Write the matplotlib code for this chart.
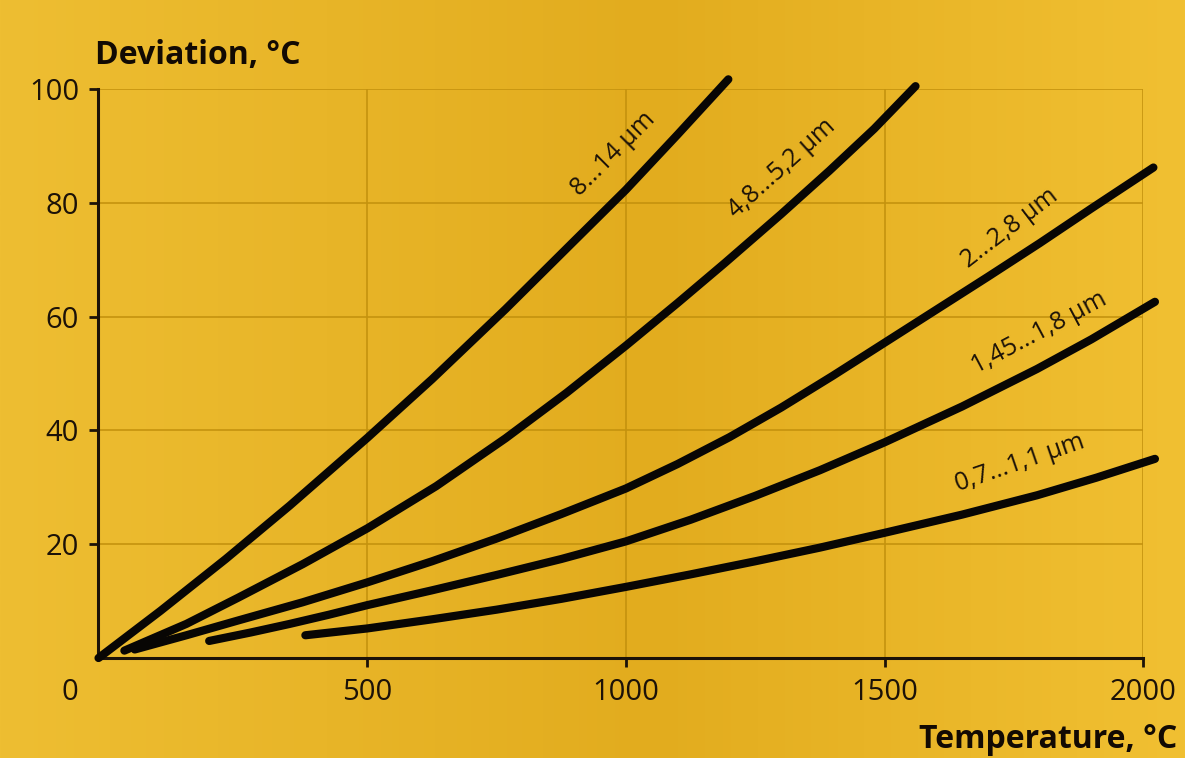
"""Deviation of measured temperature vs. object temperature for several spectral bands.

Redraws the gold "Deviation, °C over Temperature, °C" chart: five thick black curves,
one per wavelength band, each labelled along its own slope.
"""

import matplotlib

matplotlib.use("Agg")
import matplotlib.pyplot as plt  # noqa: E402
import numpy as np  # noqa: E402

# Values (temperature °C, deviation °C).
temp_8_14 = [-20, 100, 226, 350, 500, 625, 767, 900, 1000, 1100, 1198]
dev_8_14 = [0.0, 8.3, 17.4, 26.8, 38.7, 49.0, 61.3, 73.3, 82.3, 92.0, 101.7]

temp_48_52 = [30, 150, 250, 375, 500, 633, 767, 885, 1000, 1100, 1191, 1300, 1393, 1480, 1560]
dev_48_52 = [1.3, 6.0, 10.6, 16.5, 22.8, 30.2, 38.6, 46.6, 54.9, 62.4, 69.4, 78.0, 85.6, 93.0, 100.5]

temp_2_28 = [50, 150, 250, 375, 500, 625, 750, 875, 1000, 1100, 1200, 1300, 1400, 1500,
             1600, 1700, 1800, 1900, 2020]
dev_2_28 = [1.5, 4.0, 6.6, 9.8, 13.3, 17.0, 21.0, 25.3, 29.8, 34.1, 38.8, 44.0, 49.6, 55.4,
            61.2, 67.0, 72.9, 79.0, 86.2]

temp_145_18 = [194, 275, 350, 425, 500, 625, 750, 875, 1000, 1125, 1250, 1375, 1500, 1650,
               1795, 1900, 2023]
dev_145_18 = [3.0, 4.5, 6.0, 7.6, 9.3, 11.9, 14.6, 17.4, 20.5, 24.3, 28.5, 33.0, 37.9, 44.2,
              50.8, 56.0, 62.6]

temp_07_11 = [380, 500, 625, 750, 875, 1000, 1125, 1250, 1375, 1500, 1650, 1795, 1910, 2023]
dev_07_11 = [4.0, 5.2, 6.8, 8.5, 10.4, 12.5, 14.7, 17.0, 19.4, 22.0, 25.2, 28.6, 31.7, 35.0]

band_labels = ["8...14 µm", "4,8...5,2 µm", "2...2,8 µm", "1,45...1,8 µm", "0,7...1,1 µm"]
# where each label sits (data coords) and its angle on screen
label_temp = [975, 1302, 1742, 1800, 1762]
label_dev = [88.5, 86.0, 75.5, 57.2, 34.2]
label_angle = [45, 42, 37.5, 28, 19]

x_ticks = [500, 1000, 1500, 2000]
y_ticks = [20, 40, 60, 80, 100]

INK = "#1c1208"
GRID = "#c4920e"


def draw_background(fig):
    """Paint the horizontal gold gradient behind everything."""
    stops_x = [0.0, 0.55, 1.0]
    stops_rgb = np.array([[238, 190, 50], [226, 172, 30], [241, 192, 50]]) / 255.0
    xs = np.linspace(0, 1, 400)
    row = np.stack([np.interp(xs, stops_x, stops_rgb[:, c]) for c in range(3)], axis=-1)
    img = np.repeat(row[np.newaxis, :, :], 2, axis=0)
    bg = fig.add_axes([0, 0, 1, 1], zorder=-10)
    bg.imshow(img, aspect="auto", extent=[0, 1, 0, 1], interpolation="bilinear")
    bg.set_axis_off()


def main():
    plt.rcParams["font.family"] = ["Open Sans", "DejaVu Sans"]

    fig = plt.figure(figsize=(11.85, 7.58), dpi=100)
    draw_background(fig)

    ax = fig.add_axes([0.0827, 0.1319, 0.8819, 0.7507])
    ax.set_facecolor("none")

    series = [
        (temp_8_14, dev_8_14),
        (temp_48_52, dev_48_52),
        (temp_2_28, dev_2_28),
        (temp_145_18, dev_145_18),
        (temp_07_11, dev_07_11),
    ]
    for t, d in series:
        ax.plot(t, d, color="#080604", linewidth=5.9, solid_capstyle="round",
                solid_joinstyle="round", clip_on=False, zorder=3)

    for text, t, d, ang in zip(band_labels, label_temp, label_dev, label_angle):
        ax.text(t, d, text, rotation=ang, rotation_mode="anchor", ha="center",
                va="center", fontsize=18, color=INK, zorder=4)

    ax.set_xlim(-21, 2000)
    ax.set_ylim(0, 100)
    ax.set_xticks(x_ticks)
    ax.set_yticks(y_ticks)
    ax.grid(True, color=GRID, linewidth=1.3, alpha=0.9)
    ax.set_axisbelow(True)

    for side in ("top", "right"):
        ax.spines[side].set_visible(False)
    for side in ("left", "bottom"):
        ax.spines[side].set_color(INK)
        ax.spines[side].set_linewidth(2.2)

    ax.tick_params(axis="both", direction="out", length=6.5, width=2, color=INK,
                   labelsize=21, labelcolor=INK)
    ax.tick_params(axis="x", pad=8)
    ax.tick_params(axis="y", pad=7)

    # lone "0" sitting below-left of the origin
    ax.text(-0.027, -0.06, "0", transform=ax.transAxes, ha="center", va="center",
            fontsize=21, color=INK)

    fig.text(95 / 1185, 1 - 56 / 758, "Deviation, °C", ha="left", va="center",
             fontsize=23, fontweight="bold", color="#120a03")
    fig.text(1177 / 1185, 1 - 740 / 758, "Temperature, °C", ha="right", va="center",
             fontsize=23, fontweight="bold", color="#120a03")

    fig.savefig("out.png", dpi=100)


if __name__ == "__main__":
    main()
